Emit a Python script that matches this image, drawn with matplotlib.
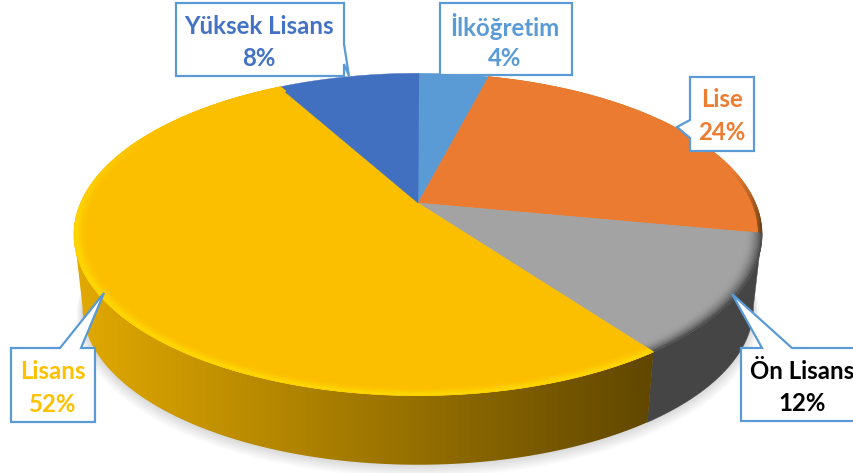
import numpy as np
import matplotlib
matplotlib.use("Agg")
import matplotlib.pyplot as plt
from matplotlib.collections import PolyCollection
from matplotlib.patches import Polygon

categories = ["İlköğretim", "Lise", "Ön Lisans", "Lisans", "Yüksek Lisans"]
values = [4, 24, 12, 52, 8]
slice_colors = ["#5B9BD5", "#EA7B30", "#A3A3A3", "#FCBF00", "#4170C0"]
label_colors = ["#5B9BD5", "#ED7D31", "#000000", "#FFC000", "#4472C4"]

# ---- Perspective of the pie, in pixels ----
X0, Y0 = 418.0, 203.0
A, B, K = 337.4, 155.0, 0.195
DEPTH = 74.0
LOW_SCALE = 0.975
TANGENT_LEFT = 259.0  # where the wall's left silhouette leaves the rim


def project(r, theta, scale=1.0, shift=0.0):
    # theta runs clockwise from 12 o'clock, in degrees
    t = np.radians(theta)
    u, v = r * np.sin(t), r * np.cos(t)
    w = 1 + K * v
    x = X0 + scale * A * u / w
    y = Y0 + shift - scale * B * v / w
    return x, y


def rgb(hex_color):
    return np.array(matplotlib.colors.to_rgb(hex_color))


fig = plt.figure(figsize=(8.54, 4.73), dpi=100)
ax = fig.add_axes([0, 0, 1, 1])
ax.axis("off")

edges = np.concatenate([[0], np.cumsum(values)]) / sum(values) * 360

# ---- Soft shadow under the pie ----
ring = np.linspace(0, 360, 361)
for i in range(10):
    sx, sy = project(1.0, ring, LOW_SCALE + 0.002 * i, DEPTH + i * 1.0)
    ax.fill(sx, sy, color="#000000", alpha=0.016, lw=0, zorder=1)

# ---- Side wall: only the two front slices show one ----
for i, name in enumerate(categories):
    if name not in ("Ön Lisans", "Lisans"):
        continue
    th = np.arange(edges[i], min(edges[i + 1], TANGENT_LEFT) + 0.25, 0.25)
    tx, ty = project(1.0, th)
    lx, ly = project(1.0, th, LOW_SCALE, DEPTH)
    wall = np.c_[np.r_[tx, lx[::-1]], np.r_[ty, ly[::-1]]]
    if name == "Ön Lisans":
        ax.fill(wall[:, 0], wall[:, 1], color="#454545", lw=0.3, zorder=2)
    else:
        xs = np.linspace(70, 660, 300)
        f = np.clip((xs - 80) / 570, 0, 1)[:, None]
        grad = np.array([0.88, 0.66, 0.0]) * (1 - f) + np.array([0.38, 0.28, 0.0]) * f
        im = ax.imshow(grad[None, :, :], extent=(70, 660, 480, 200), aspect="auto", zorder=2)
        im.set_clip_path(Polygon(wall, closed=True, transform=ax.transData))

ax.set_xlim(0, 854)
ax.set_ylim(473, 0)

# ---- Top face ----
for i in range(len(values)):
    th = np.arange(edges[i], edges[i + 1] + 0.25, 0.25)
    px, py = project(1.0, th)
    ax.fill(np.r_[X0, px], np.r_[Y0, py], color=slice_colors[i], lw=0.3, zorder=3)

# ---- Bevel along the front rim ----
radii = np.linspace(1.0, 0.955, 10)
quads, quad_colors = [], []
for i, name in enumerate(categories):
    base = rgb(slice_colors[i])
    if name == "Lisans":
        rim = np.array([1.0, 0.85, 0.0])
    elif name == "Ön Lisans":
        rim = np.array([0.3, 0.3, 0.3])
    elif name == "Lise":
        rim = np.array([0.42, 0.25, 0.08])
    else:
        continue
    steps = np.arange(edges[i], edges[i + 1] + 0.5, 0.5)
    for a0, a1 in zip(steps[:-1], steps[1:]):
        am = (a0 + a1) / 2
        # strength fades towards the back of the pie
        if name == "Lise":
            s = np.clip((am - 78) / 20, 0, 1)
        elif name == "Lisans":
            s = np.clip((305 - am) / 45, 0, 1)
        else:
            s = 1.0
        r_list = radii[:3] if name == "Lise" else radii
        for r0, r1 in zip(r_list[:-1], r_list[1:]):
            depth = (1.0 - r0) / (1.0 - radii[-1])
            if name == "Lisans":
                g = s * np.clip(1.0 - abs(depth - 0.1) / 0.7, 0, 1) ** 1.5
            else:
                g = s * (1 - depth) ** 2
            c = base * (1 - g) + rim * g
            pts = [project(r0, a0), project(r0, a1), project(r1, a1), project(r1, a0)]
            quads.append([(float(p[0]), float(p[1])) for p in pts])
            quad_colors.append(c)
ax.add_collection(PolyCollection(quads, facecolors=quad_colors, edgecolors=quad_colors,
                                 linewidths=0.5, zorder=4))

# ---- Callouts: outline of each label box with its pointer ----
outlines = {
    "İlköğretim": [(440, 3), (572, 3), (572, 75), (440, 75)],
    "Lise": [(690, 77), (754, 77), (754, 151), (690, 151), (690, 138), (677, 127), (690, 120)],
    "Ön Lisans": [(741, 348), (762, 348), (732, 294), (792, 348), (870, 348), (870, 421), (741, 421)],
    "Lisans": [(11, 348), (60, 348), (104, 293), (81, 348), (95, 348), (95, 422), (11, 422)],
    "Yüksek Lisans": [(176, 3), (344, 3), (344, 44), (349, 76), (344, 64), (344, 76), (176, 76)],
}
text_pos = {
    "İlköğretim": (505, 27, 58),
    "Lise": (722, 99, 132),
    "Ön Lisans": (802, 371, 403),
    "Lisans": (53, 371, 404),
    "Yüksek Lisans": (259, 27, 58),
}

for i, name in enumerate(categories):
    ax.add_patch(Polygon(outlines[name], closed=True, facecolor="white", edgecolor="#5B9BD5",
                         linewidth=1.6, joinstyle="miter", zorder=5))
    tx, y1, y2 = text_pos[name]
    ax.text(tx, y1, name, color=label_colors[i], fontsize=17.3, fontfamily="Lato",
            fontweight="bold", ha="center", va="center", zorder=6)
    ax.text(tx, y2, f"{values[i]}%", color=label_colors[i], fontsize=17.3, fontfamily="Lato",
            fontweight="bold", ha="center", va="center", zorder=6)

fig.savefig("out.png", dpi=100)
